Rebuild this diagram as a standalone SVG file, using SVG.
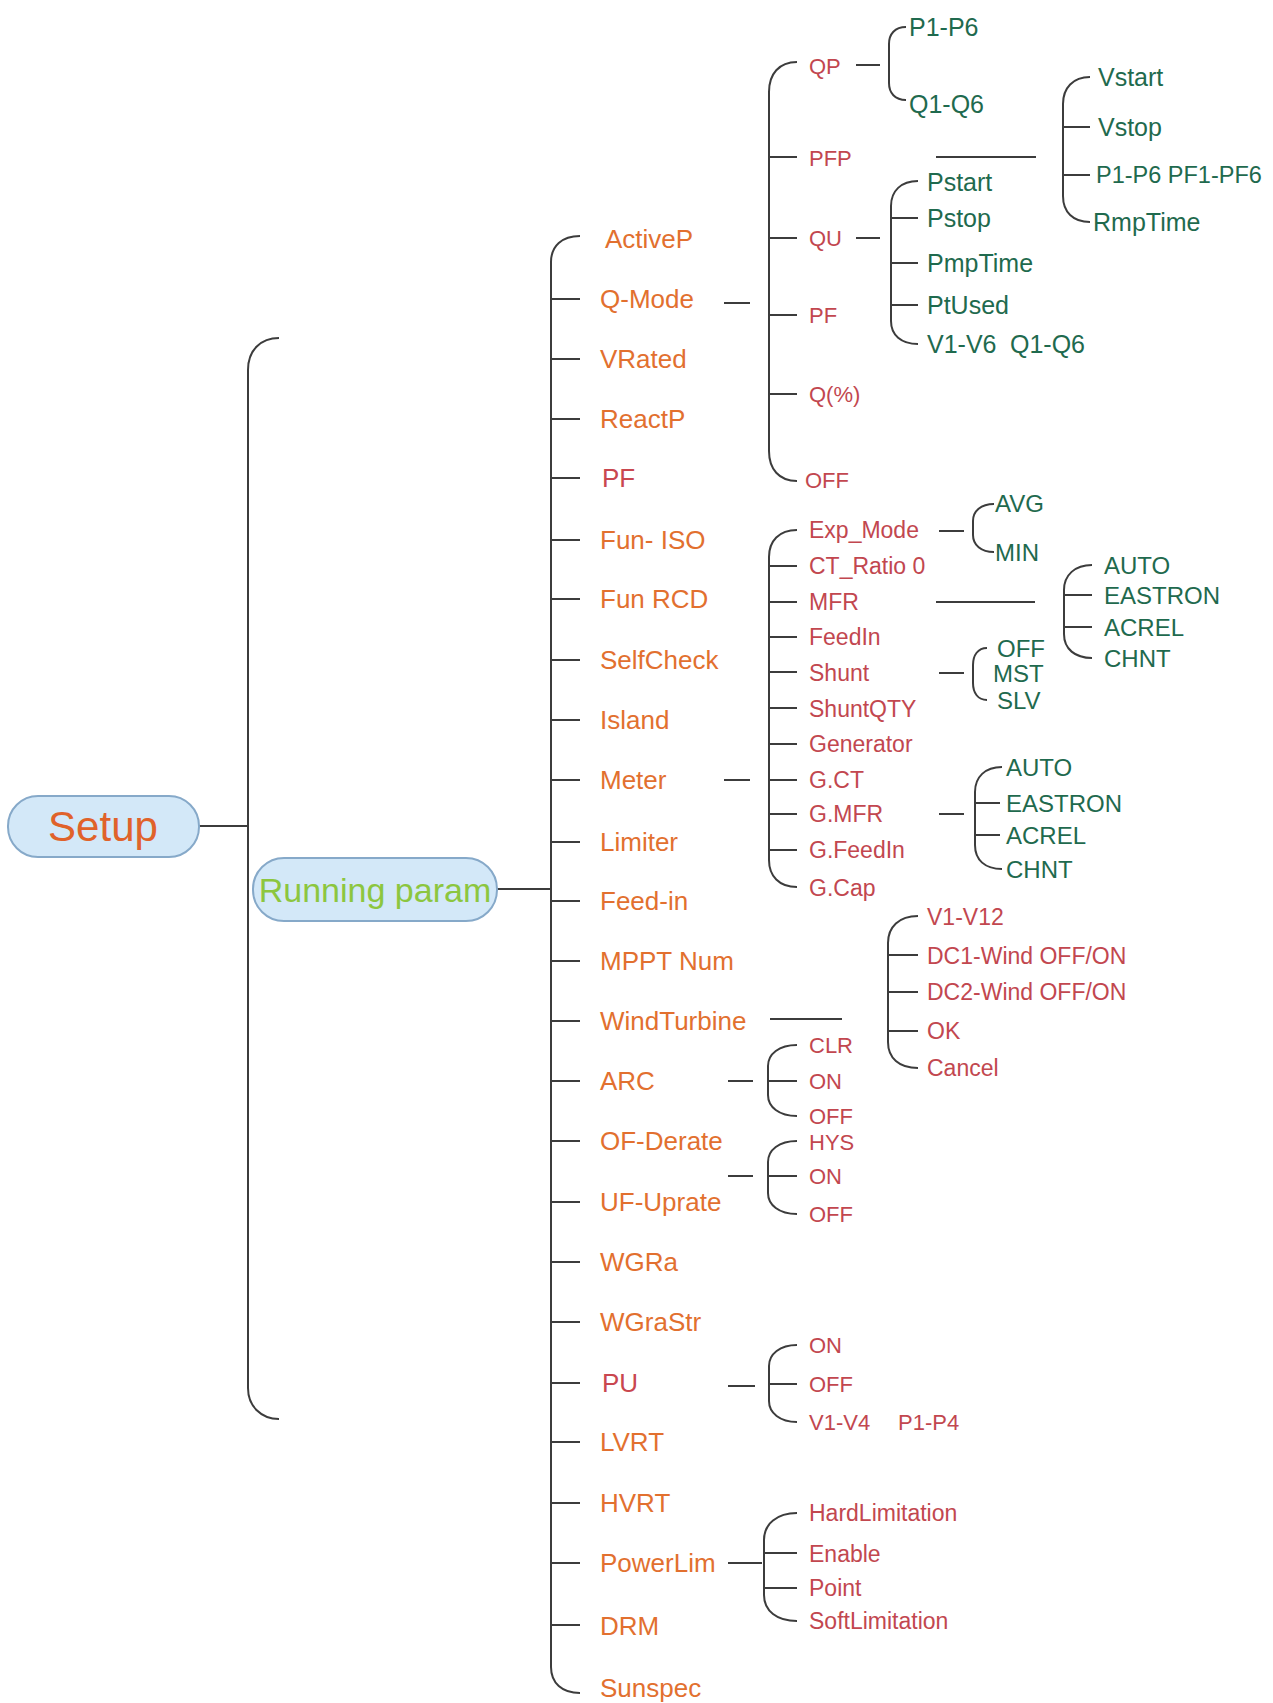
<svg xmlns="http://www.w3.org/2000/svg" width="1273" height="1703" viewBox="0 0 1273 1703">
<style>
.c path{fill:none;stroke:#3c3c3c;stroke-width:2}
text{font-family:"Liberation Sans",Arial,sans-serif;dominant-baseline:central}
.pill{fill:#d3e8f8;stroke:#86a9c9;stroke-width:2}
.m{font-size:26px;fill:#e2702f}
.mr{font-size:26px;fill:#c9474f}
.r{font-size:22px;fill:#c2474f}
.r2{font-size:23px;fill:#c2474f}
.g{font-size:25px;fill:#1f6a4e}
.gc{font-size:24px;fill:#1f6a4e}
</style>
<rect width="1273" height="1703" fill="#ffffff"/>
<g id="connectors" class="c">
<path d="M199,826 H248"/>
<path d="M279,338 C261,338 248,350 248,370 V1388 C248,1406 261,1419 279,1419"/>
<path d="M497,889 H551"/>
<path d="M580,236 C562,236 551,246 551,262 V1667 C551,1683 562,1693 580,1693"/>
<path d="M551,299 H580 M551,359 H580 M551,419 H580 M551,478 H580 M551,540 H580 M551,599 H580 M551,660 H580 M551,720 H580 M551,780 H580 M551,842 H580 M551,901 H580 M551,961 H580 M551,1021 H580 M551,1081 H580 M551,1141 H580 M551,1202 H580 M551,1262 H580 M551,1322 H580 M551,1383 H580 M551,1442 H580 M551,1503 H580 M551,1563 H580 M551,1625 H580"/>
<path d="M724,303 H750"/>
<path d="M797,62 C779,62 769,74 769,92 V451 C769,469 779,481 797,481"/>
<path d="M769,157 H797 M769,238 H797 M769,315 H797 M769,394 H797"/>
<path d="M856,65 H880"/>
<path d="M906,27 C895,27 889,34 889,44 V83 C889,93 895,100 906,100"/>
<path d="M936,157 H1036"/>
<path d="M1090,77 C1073,77 1063,88 1063,104 V196 C1063,212 1073,222 1090,222"/>
<path d="M1063,127 H1090 M1063,175 H1090"/>
<path d="M856,238 H880"/>
<path d="M918,181 C901,181 891,191 891,206 V321 C891,335 901,344 918,344"/>
<path d="M891,218 H918 M891,263 H918 M891,305 H918"/>
<path d="M724,780 H750"/>
<path d="M797,530 C779,530 769,541 769,557 V860 C769,876 779,887 797,887"/>
<path d="M769,566 H797 M769,602 H797 M769,637 H797 M769,672 H797 M769,708 H797 M769,744 H797 M769,780 H797 M769,814 H797 M769,850 H797"/>
<path d="M939,531 H964"/>
<path d="M994,504 C981,504 973,511 973,521 V535 C973,545 981,552 994,552"/>
<path d="M936,602 H1035"/>
<path d="M1092,565 C1075,565 1064,575 1064,590 V634 C1064,649 1075,658 1092,658"/>
<path d="M1064,595 H1092 M1064,627 H1092"/>
<path d="M939,673 H964"/>
<path d="M987,648 C978,648 973,655 973,665 V683 C973,693 978,700 987,700"/>
<path d="M939,814 H964"/>
<path d="M1002,767 C985,767 975,777 975,792 V845 C975,860 985,869 1002,869"/>
<path d="M975,803 H1000 M975,835 H1000"/>
<path d="M770,1019 H842"/>
<path d="M918,916 C899,916 888,927 888,943 V1042 C888,1058 899,1068 918,1068"/>
<path d="M888,955 H918 M888,992 H918 M888,1031 H918"/>
<path d="M728,1081 H753"/>
<path d="M797,1045 C779,1045 768,1054 768,1066 V1095 C768,1107 779,1116 797,1116"/>
<path d="M768,1081 H797"/>
<path d="M728,1176 H753"/>
<path d="M797,1141 C779,1141 768,1150 768,1162 V1193 C768,1205 779,1214 797,1214"/>
<path d="M768,1176 H797"/>
<path d="M728,1386 H755"/>
<path d="M797,1345 C780,1345 769,1354 769,1366 V1401 C769,1413 780,1422 797,1422"/>
<path d="M769,1384 H797"/>
<path d="M728,1563 H762"/>
<path d="M797,1513 C777,1513 764,1524 764,1540 V1595 C764,1611 777,1621 797,1621"/>
<path d="M764,1553 H797 M764,1588 H797"/>
</g>
<g id="n-setup"><rect class="pill" x="8" y="796" width="191" height="61" rx="30"/><text x="103" y="826" text-anchor="middle" style="font-size:42px;fill:#e0622a">Setup</text></g>
<g id="n-running"><rect class="pill" x="253" y="858" width="244" height="63" rx="31"/><text x="375" y="890" text-anchor="middle" style="font-size:34px;fill:#8cc63f">Running param</text></g>
<g id="n-activep"><text class="m" x="605" y="239">ActiveP</text></g>
<g id="n-qmode"><text class="m" x="600" y="299">Q-Mode</text></g>
<g id="n-vrated"><text class="m" x="600" y="359">VRated</text></g>
<g id="n-reactp"><text class="m" x="600" y="419">ReactP</text></g>
<g id="n-pf"><text class="mr" x="602" y="478">PF</text></g>
<g id="n-funiso"><text class="m" x="600" y="540">Fun- ISO</text></g>
<g id="n-funrcd"><text class="m" x="600" y="599">Fun RCD</text></g>
<g id="n-selfcheck"><text class="m" x="600" y="660">SelfCheck</text></g>
<g id="n-island"><text class="m" x="600" y="720">Island</text></g>
<g id="n-meter"><text class="m" x="600" y="780">Meter</text></g>
<g id="n-limiter"><text class="m" x="600" y="842">Limiter</text></g>
<g id="n-feedin"><text class="m" x="600" y="901">Feed-in</text></g>
<g id="n-mppt"><text class="m" x="600" y="961">MPPT Num</text></g>
<g id="n-wind"><text class="m" x="600" y="1021">WindTurbine</text></g>
<g id="n-arc"><text class="m" x="600" y="1081">ARC</text></g>
<g id="n-ofderate"><text class="m" x="600" y="1141">OF-Derate</text></g>
<g id="n-ufuprate"><text class="m" x="600" y="1202">UF-Uprate</text></g>
<g id="n-wgra"><text class="m" x="600" y="1262">WGRa</text></g>
<g id="n-wgrastr"><text class="m" x="600" y="1322">WGraStr</text></g>
<g id="n-pu"><text class="mr" x="602" y="1383">PU</text></g>
<g id="n-lvrt"><text class="m" x="600" y="1442">LVRT</text></g>
<g id="n-hvrt"><text class="m" x="600" y="1503">HVRT</text></g>
<g id="n-powerlim"><text class="m" x="600" y="1563">PowerLim</text></g>
<g id="n-drm"><text class="m" x="600" y="1626">DRM</text></g>
<g id="n-sunspec"><text class="m" x="600" y="1688">Sunspec</text></g>
<g id="n-qp"><text class="r" x="809" y="66">QP</text></g>
<g id="n-pfp"><text class="r" x="809" y="158">PFP</text></g>
<g id="n-qu"><text class="r" x="809" y="238">QU</text></g>
<g id="n-qpf"><text class="r" x="809" y="315">PF</text></g>
<g id="n-qpct"><text class="r" x="809" y="394">Q(%)</text></g>
<g id="n-qoff"><text class="r" x="805" y="480">OFF</text></g>
<g id="n-qp-p"><text class="g" x="909" y="27">P1-P6</text></g>
<g id="n-qp-q"><text class="g" x="909" y="104">Q1-Q6</text></g>
<g id="n-vstart"><text class="g" x="1098" y="77">Vstart</text></g>
<g id="n-vstop"><text class="g" x="1098" y="127">Vstop</text></g>
<g id="n-pfp-p"><text class="g" x="1096" y="175" style="font-size:23.5px">P1-P6 PF1-PF6</text></g>
<g id="n-rmptime"><text class="g" x="1093" y="222">RmpTime</text></g>
<g id="n-pstart"><text class="g" x="927" y="182">Pstart</text></g>
<g id="n-pstop"><text class="g" x="927" y="218">Pstop</text></g>
<g id="n-pmptime"><text class="g" x="927" y="263">PmpTime</text></g>
<g id="n-ptused"><text class="g" x="927" y="305">PtUsed</text></g>
<g id="n-vq"><text class="g" y="344"><tspan x="927">V1-V6</tspan><tspan x="1010">Q1-Q6</tspan></text></g>
<g id="n-expmode"><text class="r2" x="809" y="530">Exp_Mode</text></g>
<g id="n-ctratio"><text class="r2" x="809" y="566">CT_Ratio 0</text></g>
<g id="n-mfr"><text class="r2" x="809" y="602">MFR</text></g>
<g id="n-feedin2"><text class="r2" x="809" y="637">FeedIn</text></g>
<g id="n-shunt"><text class="r2" x="809" y="673">Shunt</text></g>
<g id="n-shuntqty"><text class="r2" x="809" y="709">ShuntQTY</text></g>
<g id="n-generator"><text class="r2" x="809" y="744">Generator</text></g>
<g id="n-gct"><text class="r2" x="809" y="780">G.CT</text></g>
<g id="n-gmfr"><text class="r2" x="809" y="814">G.MFR</text></g>
<g id="n-gfeedin"><text class="r2" x="809" y="850">G.FeedIn</text></g>
<g id="n-gcap"><text class="r2" x="809" y="888">G.Cap</text></g>
<g id="n-avg"><text class="gc" x="995" y="503">AVG</text></g>
<g id="n-min"><text class="gc" x="995" y="552">MIN</text></g>
<g id="n-m-auto"><text class="gc" x="1104" y="565">AUTO</text></g>
<g id="n-m-eastron"><text class="gc" x="1104" y="595">EASTRON</text></g>
<g id="n-m-acrel"><text class="gc" x="1104" y="627">ACREL</text></g>
<g id="n-m-chnt"><text class="gc" x="1104" y="658">CHNT</text></g>
<g id="n-s-off"><text class="gc" x="997" y="648">OFF</text></g>
<g id="n-s-mst"><text class="gc" x="993" y="673">MST</text></g>
<g id="n-s-slv"><text class="gc" x="997" y="700">SLV</text></g>
<g id="n-g-auto"><text class="gc" x="1006" y="767">AUTO</text></g>
<g id="n-g-eastron"><text class="gc" x="1006" y="803">EASTRON</text></g>
<g id="n-g-acrel"><text class="gc" x="1006" y="835">ACREL</text></g>
<g id="n-g-chnt"><text class="gc" x="1006" y="869">CHNT</text></g>
<g id="n-v1v12"><text class="r2" x="927" y="917">V1-V12</text></g>
<g id="n-dc1"><text class="r2" x="927" y="956">DC1-Wind OFF/ON</text></g>
<g id="n-dc2"><text class="r2" x="927" y="992">DC2-Wind OFF/ON</text></g>
<g id="n-ok"><text class="r2" x="927" y="1031">OK</text></g>
<g id="n-cancel"><text class="r2" x="927" y="1068">Cancel</text></g>
<g id="n-arc-clr"><text class="r" x="809" y="1045">CLR</text></g>
<g id="n-arc-on"><text class="r" x="809" y="1081">ON</text></g>
<g id="n-arc-off"><text class="r" x="809" y="1116">OFF</text></g>
<g id="n-f-hys"><text class="r" x="809" y="1142">HYS</text></g>
<g id="n-f-on"><text class="r" x="809" y="1176">ON</text></g>
<g id="n-f-off"><text class="r" x="809" y="1214">OFF</text></g>
<g id="n-pu-on"><text class="r" x="809" y="1345">ON</text></g>
<g id="n-pu-off"><text class="r" x="809" y="1384">OFF</text></g>
<g id="n-pu-vp"><text class="r" y="1422"><tspan x="809">V1-V4</tspan><tspan x="898">P1-P4</tspan></text></g>
<g id="n-hardlim"><text class="r2" x="809" y="1513">HardLimitation</text></g>
<g id="n-enable"><text class="r2" x="809" y="1554">Enable</text></g>
<g id="n-point"><text class="r2" x="809" y="1588">Point</text></g>
<g id="n-softlim"><text class="r2" x="809" y="1621">SoftLimitation</text></g>
</svg>
